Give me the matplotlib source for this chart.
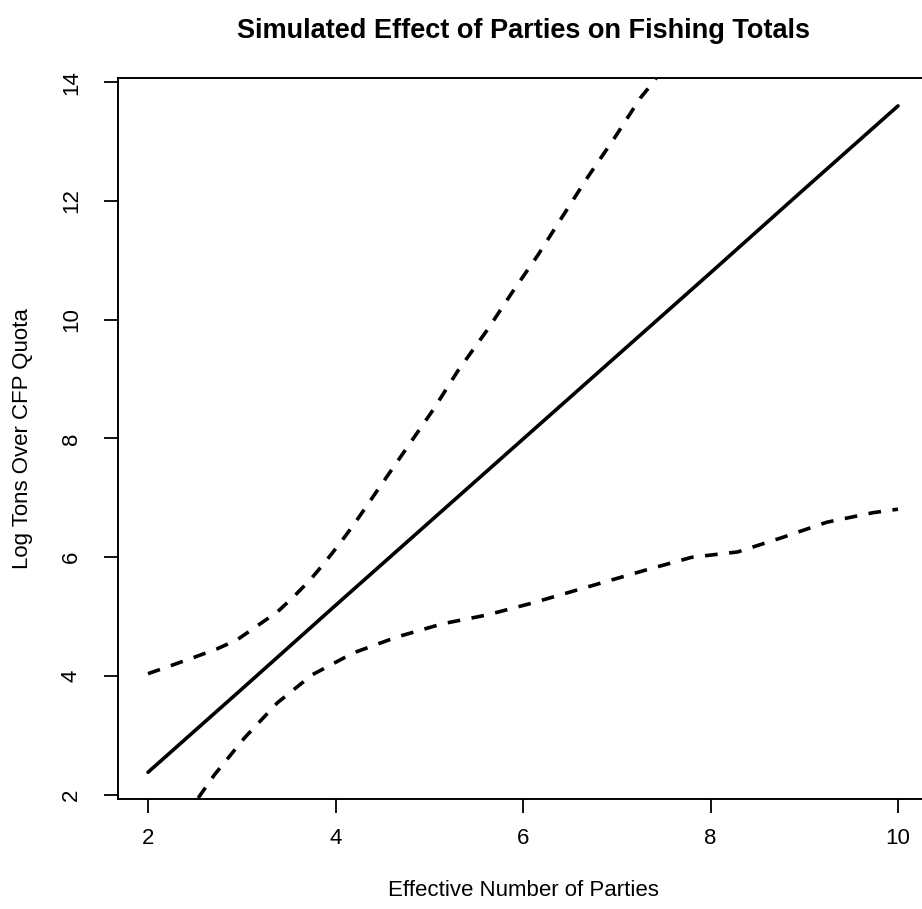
import numpy as np
import matplotlib
matplotlib.use("Agg")
import matplotlib.pyplot as plt

plt.rcParams['font.family'] = ['Liberation Sans', 'DejaVu Sans']

# fitted effect (solid) and simulated confidence bounds (dashed)
x_fit = [2, 3, 4, 5, 6, 7, 8, 9, 10]
y_fit = [2.38, 3.78, 5.19, 6.59, 7.99, 9.39, 10.79, 12.20, 13.60]

x_upper = [2.0, 2.27, 2.5, 2.74, 2.95, 3.16, 3.38, 3.55, 3.73, 3.89, 4.05, 4.19, 4.34,
           4.47, 4.76, 5.04, 5.31, 5.62, 5.88, 6.16, 6.43, 6.69, 6.98, 7.25, 7.39, 7.6]
y_upper = [4.04, 4.19, 4.32, 4.46, 4.61, 4.84, 5.08, 5.33, 5.62, 5.92, 6.24, 6.54, 6.88,
           7.18, 7.84, 8.48, 9.15, 9.83, 10.45, 11.09, 11.76, 12.40, 13.07, 13.73, 14.0, 14.5]

x_lower = [2.4, 2.55, 2.71, 3.03, 3.38, 3.75, 4.19, 4.66, 5.14, 5.62, 6.10, 6.84, 7.32,
           7.80, 8.29, 8.76, 9.24, 9.73, 10.0]
y_lower = [1.6, 1.98, 2.34, 2.96, 3.55, 4.02, 4.39, 4.66, 4.88, 5.03, 5.23, 5.57, 5.79,
           6.00, 6.09, 6.33, 6.59, 6.75, 6.81]

x_ticks = [2, 4, 6, 8, 10]
y_ticks = [2, 4, 6, 8, 10, 12, 14]

fig = plt.figure(figsize=(9.22, 9.09), dpi=100)
ax = fig.add_axes([118 / 922, 110 / 909, 810 / 922, 721 / 909])

ax.plot(x_fit, y_fit, color='black', lw=2.6, solid_capstyle='round')
ax.plot(x_upper, y_upper, color='black', lw=2.6, dashes=(3.5, 3.2))
ax.plot(x_lower, y_lower, color='black', lw=2.6, dashes=(3.5, 3.2))

ax.set_xlim(1.68, 10.32)
ax.set_ylim(1.93, 14.07)
ax.set_xticks(x_ticks)
ax.set_yticks(y_ticks)
ax.tick_params(axis='both', direction='out', length=10, width=1.3, labelsize=16)
ax.tick_params(axis='x', pad=11)
ax.tick_params(axis='y', pad=16)
for lab in ax.get_yticklabels():
    lab.set_rotation(90)
    lab.set_va('center')
for s in ax.spines.values():
    s.set_linewidth(1.4)

ax.set_title('Simulated Effect of Parties on Fishing Totals', fontsize=19.5,
             fontweight='bold', pad=29)
ax.set_xlabel('Effective Number of Parties', fontsize=16, labelpad=22)
ax.set_ylabel('Log Tons Over CFP Quota', fontsize=16, labelpad=20)

fig.savefig('out.png', dpi=100)
